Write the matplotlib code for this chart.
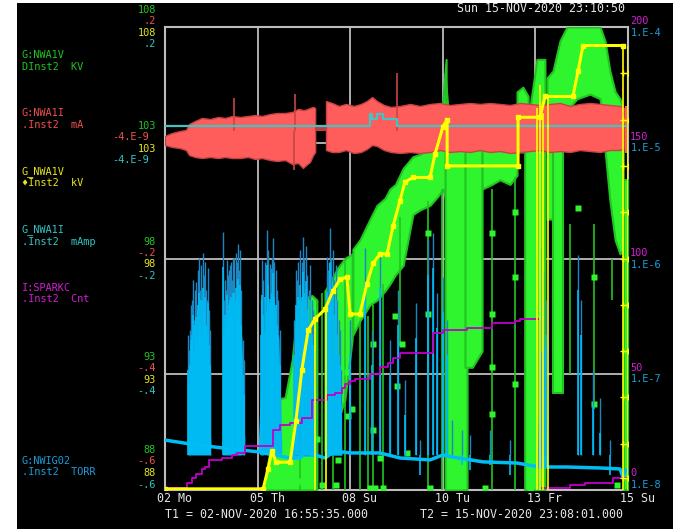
import numpy as np
import matplotlib
matplotlib.use("Agg")
import matplotlib.pyplot as plt
from matplotlib.transforms import offset_copy

# ---------------- data (time in days since T1 = 02-NOV-2020 16:55:35) ----------------
T_SPAN = 13.2587
tick_t = [0, 2.6517, 5.3035, 7.9552, 10.6070, 13.2587]
tick_labels = ['02 Mo', '05 Th', '08 Su', '10 Tu', '13 Fr', '15 Su']

# G:NWA1V (kV) - dense band segments (upper / lower envelopes)
green_seg_t = [
    [2.81, 2.95, 3.07, 3.18, 3.44, 3.64, 3.81, 4.01, 4.21, 4.35],
    [4.58, 4.73, 4.95, 5.15, 5.36],
    [5.38, 5.58, 5.87, 6.07, 6.30, 6.44, 6.60, 6.82, 7.10, 7.30, 7.59, 7.82, 7.96, 8.05],
    [8.02, 8.10, 8.20, 8.40, 8.65],
    [8.59, 8.80, 9.08],
    [9.08, 9.36, 9.59, 9.88, 10.08],
    [10.08, 10.25, 10.40],
    [10.30, 10.45, 10.65, 10.88],
    [10.94, 11.11, 11.31, 11.51, 11.80, 12.17, 12.46, 12.60, 12.74, 12.89, 13.03, 13.12],
    [11.11, 11.40],
    [13.14, 13.26],
]
green_seg_hi = [
    [88.0, 89.2, 90.2, 91.9, 92.0, 93.6, 96.0, 96.3, 96.4, 96.2],
    [96.6, 97.0, 97.6, 98.0, 98.2],
    [98.4, 98.8, 99.7, 100.3, 100.6, 101.0, 101.2, 101.9, 102.4, 102.5, 102.8, 103.6, 104.9, 106.6],
    [106.0, 104.5, 102.8, 102.8, 102.6],
    [102.8, 102.7, 102.7],
    [102.7, 102.8, 102.7, 102.6, 102.7],
    [105.2, 105.4, 105.0],
    [102.5, 104.5, 106.6, 106.6],
    [105.8, 106.1, 107.4, 108.0, 108.0, 108.0, 108.0, 107.4, 106.1, 105.2, 104.9, 104.4],
    [104.0, 104.0],
    [101.4, 101.4],
]
green_seg_lo = [
    [88.0] * 10,
    [89.7, 90.2, 91.0, 91.9, 94.5],
    [94.7, 95.3, 96.0, 96.2, 96.6, 96.9, 97.3, 97.7, 99.9, 100.1, 100.3, 100.7, 101.0, 100.5],
    [88.0] * 5,
    [93.3, 93.3, 94.0],
    [101.0, 101.2, 101.4, 101.2, 101.6],
    [102.6, 102.6, 102.6],
    [88.0] * 4,
    [99.7, 99.7, 102.7, 104.4, 104.9, 105.1, 104.9, 102.7, 100.5, 98.8, 98.2, 98.4],
    [92.2, 92.2],
    [88.0, 88.0],
]
green_floor_t = [0.0, 2.81]
green_floor_v = [88.0, 88.0]
# drop-outs (vertical excursions)
green_dip_t = [3.87, 4.35, 4.50, 4.81, 5.15, 5.58, 5.81, 5.96, 6.24, 6.73, 7.53, 7.93, 9.36, 10.02, 11.60, 12.29, 12.80]
green_dip_top = [96.2, 96.2, 96.5, 96.8, 98.0, 95.3, 95.5, 96.0, 96.9, 99.8, 100.5, 101.0, 101.0, 101.5, 99.5, 99.5, 98.0]
green_dip_bot = [88.0, 88.0, 88.0, 88.0, 88.0, 88.0, 88.0, 88.0, 88.0, 94.2, 88.0, 88.0, 88.0, 88.0, 93.0, 91.5, 96.2]
# isolated samples
green_pt_t = [3.87, 4.21, 4.35, 4.95, 5.21, 5.24, 5.36, 5.96, 5.96, 6.16, 6.59, 6.64, 6.79, 6.93,
              9.36, 9.36, 9.36, 9.36, 10.02, 10.02, 10.02, 11.83, 12.29, 12.29, 7.53, 7.53,
              3.95, 4.15, 4.50, 4.90, 5.87, 6.01, 6.24, 7.59, 9.16, 10.45, 12.94]
green_pt_v = [88.4, 89.4, 90.2, 89.3, 93.1, 91.2, 91.5, 94.3, 90.6, 89.4, 95.5, 92.5, 94.3, 89.6,
              99.1, 95.6, 93.3, 91.3, 100.0, 97.2, 92.6, 100.2, 97.2, 91.7, 99.1, 95.6,
              88.3, 88.3, 88.2, 88.2, 88.1, 88.1, 88.1, 88.1, 88.1, 88.1, 88.2]

# G_NWA1V (kV)
yel_t = [0.0, 2.81, 2.95, 3.06, 3.18, 3.58, 3.75, 3.92, 4.10, 4.30, 4.58, 4.81, 5.01, 5.21, 5.30,
         5.58, 5.78, 5.96, 6.16, 6.36, 6.53, 6.73, 6.87, 7.10, 7.59, 7.73, 7.96, 8.08, 8.08,
         10.11, 10.11, 10.74, 10.88, 11.68, 11.83, 11.97, 13.12]
yel_v = [88.05, 88.05, 88.9, 89.7, 89.2, 89.2, 91.0, 93.2, 94.9, 95.4, 95.8, 96.6, 97.1, 97.2, 95.6,
         95.6, 96.9, 97.8, 98.2, 98.2, 99.4, 100.5, 101.3, 101.5, 101.5, 102.5, 103.7, 104.0, 102.0,
         102.0, 104.1, 104.1, 105.0, 105.0, 106.1, 107.2, 107.2]
yel_vert_t = [4.30, 4.61, 10.65, 10.74, 10.82, 10.97, 13.12, 13.25]
yel_vert_top = [95.4, 95.8, 104.5, 105.5, 104.3, 105.0, 107.2, 107.2]
yel_mark_v = [106, 104, 102, 100, 98, 96, 94, 92, 90, 88.5]

# G:NWA1I (mA) - noise band envelopes
red_t = [0.0, 0.20, 0.43, 0.60, 0.69, 0.86, 1.06, 1.29, 1.52, 1.72, 1.92, 2.15, 2.38, 2.58, 2.78,
         3.01, 3.21, 3.44, 3.64, 3.81, 3.95, 4.01, 4.15, 4.24, 4.30]
red_hi = [0.0117, 0.0168, 0.0203, 0.0220, 0.0324, 0.0376, 0.0428, 0.0410, 0.0445, 0.0428, 0.0462,
          0.0445, 0.0462, 0.0479, 0.0462, 0.0497, 0.0514, 0.0514, 0.0531, 0.0583, 0.0566, 0.0566,
          0.0600, 0.0618, 0.0600]
red_lo = [-0.0039, -0.0073, -0.0091, -0.0125, -0.0212, -0.0246, -0.0264, -0.0246, -0.0264, -0.0246,
          -0.0264, -0.0264, -0.0246, -0.0281, -0.0264, -0.0298, -0.0315, -0.0298, -0.0367, -0.0350,
          -0.0436, -0.0400, -0.0333, -0.0212, -0.0160]
red2_t = [4.61, 4.78, 4.98, 5.18, 5.41, 5.61, 5.78, 5.93, 6.07, 6.27, 6.47, 6.73, 7.02, 7.30, 7.59,
          7.87, 8.16, 8.45, 8.73, 9.02, 9.30, 9.59, 9.88, 10.17, 10.45, 10.74, 11.02, 11.31, 11.60,
          11.88, 12.17, 12.46, 12.74, 13.03, 13.14]
red2_hi = [0.0721, 0.0687, 0.0635, 0.0670, 0.0635, 0.0670, 0.0721, 0.0790, 0.0721, 0.0652, 0.0618,
           0.0635, 0.0670, 0.0635, 0.0670, 0.0687, 0.0652, 0.0670, 0.0687, 0.0670, 0.0687, 0.0670,
           0.0652, 0.0687, 0.0670, 0.0652, 0.0670, 0.0687, 0.0635, 0.0670, 0.0687, 0.0670, 0.0652,
           0.0635, 0.0600]
red2_lo = [-0.0125, -0.0160, -0.0160, -0.0125, -0.0177, -0.0160, -0.0108, -0.0039, -0.0056, -0.0125,
           -0.0160, -0.0177, -0.0160, -0.0177, -0.0160, -0.0125, -0.0160, -0.0143, -0.0160, -0.0125,
           -0.0160, -0.0143, -0.0177, -0.0160, -0.0143, -0.0125, -0.0160, -0.0143, -0.0160, -0.0125,
           -0.0143, -0.0160, -0.0125, -0.0125, -0.0091]
red_gap_t = [4.30, 4.61]
red_gap_hi = [0.027, 0.027]
red_gap_lo = [0.020, 0.020]
red_spike_t = [1.98, 3.72, 6.64, 3.69]
red_spike_v = [0.077, 0.084, 0.121, -0.047]
red_edge_t = [13.17, 13.24]
red_edge_hi = [0.064, 0.064]
red_edge_lo = [-0.018, -0.018]

# G_NWA1I (mAmp)
cyan_t = [0.0, 5.87, 5.93, 6.07, 6.24, 6.64, 13.26]
cyan_v = [0.029, 0.050, 0.041, 0.050, 0.041, 0.029, 0.029]

# I:SPARKC (counts)
spark_t = [0, 0.63, 0.77, 0.89, 1.06, 1.15, 1.26, 1.63, 1.92, 2.06, 2.29, 3.09, 3.29, 3.58, 3.92,
           4.21, 4.64, 4.87, 5.07, 5.15, 5.30, 5.44, 5.87, 6.16, 6.39, 6.53, 6.73, 7.67, 7.96, 8.65,
           9.36, 10.02, 10.17, 10.74, 10.88, 11.60, 12.03, 12.26, 12.83, 13.26]
spark_c = [1, 3, 5, 7, 9, 10, 13, 14, 15, 16, 19, 26, 28, 29, 31, 39, 41, 42, 44, 46, 47, 48, 50,
           53, 55, 57, 59, 68, 69, 70, 72, 73, 74, 1, 1, 2, 3, 3, 5, 5]

# G:NWIG02 (Torr)
vac_t = [0, 0.716, 1.432, 2.148, 2.721, 3.580, 3.866, 4.009, 4.296, 4.582, 4.868, 5.298, 6.157,
         6.730, 7.589, 7.961, 8.162, 9.107, 10.080, 10.739, 11.512, 12.457, 13.030, 13.116, 13.202,
         13.259]
vac_p = [2.70e-8, 2.50e-8, 2.35e-8, 2.22e-8, 2.13e-8, 1.89e-8, 1.89e-8, 2.13e-8, 2.01e-8, 1.89e-8,
         2.17e-8, 2.09e-8, 2.09e-8, 1.89e-8, 1.82e-8, 2.01e-8, 1.94e-8, 1.75e-8, 1.71e-8, 1.58e-8,
         1.58e-8, 1.55e-8, 1.52e-8, 1.29e-8, 1.49e-8, 1.49e-8]
burst_t = [
    [0.630, 0.716, 0.859, 1.002, 1.145, 1.231, 1.317],
    [1.632, 1.718, 1.861, 2.005, 2.090, 2.205, 2.291],
    [2.663, 2.778, 2.892, 3.007, 3.150, 3.265, 3.351],
    [3.637, 3.751, 3.866, 4.009, 4.152, 4.267, 4.324],
    [4.553, 4.639, 4.782, 4.954, 5.069],
    [10.653, 10.739, 10.882, 10.968],
]
burst_p = [
    [2.4e-8, 6.0e-8, 1.2e-7, 1.6e-7, 1.3e-7, 8.0e-8, 2.4e-8],
    [2.3e-8, 1.5e-7, 3.0e-7, 4.5e-7, 4.0e-7, 2.0e-7, 2.2e-8],
    [2.1e-8, 1.6e-7, 3.5e-7, 4.5e-7, 4.0e-7, 2.0e-7, 2.0e-8],
    [1.9e-8, 1.2e-7, 2.4e-7, 3.5e-7, 2.4e-7, 1.0e-7, 1.9e-8],
    [1.9e-8, 8.0e-8, 1.5e-7, 1.5e-7, 2.0e-8],
    [1.6e-8, 1.5e-7, 1.8e-7, 1.6e-8],
]
burst_base = [2.4e-8, 2.2e-8, 2.1e-8, 1.95e-8, 2.0e-8, 1.6e-8]
spike_t = [0.659, 0.745, 0.802, 0.888, 0.974, 1.031, 1.088, 1.145, 1.231, 1.289,
           0.68, 0.70, 0.73, 0.77, 0.83, 0.86, 0.92, 0.95, 1.00, 1.06, 1.11, 1.17, 1.20, 1.26, 1.30,
           1.661, 1.747, 1.804, 1.861, 1.947, 2.033, 2.090, 2.148, 2.234,
           1.69, 1.72, 1.78, 1.83, 1.89, 1.92, 1.98, 2.06, 2.12, 2.18, 2.26,
           2.778, 2.921, 3.007, 3.093, 3.179, 3.236,
           2.74, 2.81, 2.86, 2.95, 3.04, 3.06, 3.12, 3.21, 3.29,
           3.751, 3.866, 3.952, 4.038, 4.152, 4.238,
           3.70, 3.79, 3.82, 3.91, 3.98, 4.07, 4.12, 4.20, 4.29,
           4.639, 4.725, 4.811, 4.897, 5.011,
           4.60, 4.67, 4.70, 4.75, 4.84, 4.93, 4.98, 5.04,
           5.298, 5.727, 5.928, 6.157, 6.443, 6.672, 6.873, 7.188, 7.302, 7.532, 7.675, 7.789,
           7.961, 8.076, 8.219, 8.505, 8.734, 9.307, 9.880, 10.739, 10.825, 10.911, 11.827,
           11.913, 12.257, 12.457, 12.743]
spike_p = [2.18e-7, 3.96e-7, 6.5e-7, 6.3e-7, 1.01e-6, 8.8e-7, 1.12e-6, 9.3e-7, 8.3e-7, 2.41e-7,
           8.9e-8, 1.62e-7, 2.41e-7, 4.38e-7, 2.94e-7, 5.3e-7, 3.6e-7, 7.96e-7, 5.3e-7, 4.38e-7,
           7.2e-7, 5.3e-7, 4.38e-7, 3.6e-7, 1.09e-7,
           1.69e-6, 5.3e-7, 7.2e-7, 8.8e-7, 1.01e-6, 1.12e-6, 1.33e-6, 1.18e-6, 1.98e-7,
           4.38e-7, 6.5e-7, 9.7e-7, 7.96e-7, 9.3e-7, 6.5e-7, 1.01e-6, 9.3e-7, 7.96e-7, 5.3e-7, 1.33e-7,
           9.7e-7, 1.76e-6, 8.96e-7, 1.50e-6, 7.96e-7, 4.38e-7,
           4.38e-7, 6.5e-7, 9.3e-7, 1.18e-6, 8.3e-7, 1.01e-6, 9.3e-7, 5.3e-7, 2.41e-7,
           7.96e-7, 1.18e-6, 1.53e-6, 1.28e-6, 8.8e-7, 3.6e-7,
           2.94e-7, 6.5e-7, 9.3e-7, 9.3e-7, 1.01e-6, 7.2e-7, 5.3e-7, 4.38e-7, 1.62e-7,
           1.03e-6, 1.83e-6, 1.18e-6, 8.8e-7, 2.41e-7,
           4.38e-7, 7.96e-7, 9.3e-7, 1.01e-6, 6.5e-7, 4.38e-7, 2.94e-7, 1.09e-7,
           2.94e-7, 1.23e-6, 2.41e-7, 1.12e-6, 1.98e-7, 5.3e-7, 8.9e-8, 4.1e-7, 2.7e-8, 1.45e-6,
           1.66e-6, 5.0e-7, 6.9e-7, 2.94e-7, 4.0e-8, 3.3e-8, 3.0e-8, 3.3e-8, 2.7e-8, 1.26e-6,
           7.96e-7, 4.38e-7, 1.07e-6, 4.38e-7, 1.09e-7, 6.2e-8, 2.7e-8]

# axis labels
left_stack = [  # green, red, yellow, cyan
    ('108', '.2', '108', '.2'),
    ('103', '-4.E-9', '103', '-4.E-9'),
    ('98', '-.2', '98', '-.2'),
    ('93', '-.4', '93', '-.4'),
    ('88', '-.6', '88', '-.6'),
]
right_stack = [('200', '1.E-4'), ('150', '1.E-5'), ('100', '1.E-6'), ('50', '1.E-7'), ('0', '1.E-8')]

# ---------------- styling ----------------
W, H = 673, 529
FONT = 'DejaVu Sans Mono'
FS = 7.4        # stacked labels
FS_WIDE = 8.4   # single-line texts
GREEN, GREEN_DK = '#2ef52e', '#22c422'
YELLOW = '#ffff00'
RED = '#ff5c5c'
CYAN = '#45c2c2'
MAG = '#c000c8'
BLUE, BLUE_DK = '#00bdf5', '#1a88c4'
GRID = '#bdbdbd'
T_G, T_R, T_Y, T_C, T_M, T_B, T_W = '#22c422', '#f05050', '#e6e620', '#30c6c6', '#d020d0', '#1a9ed8', '#e6e6e6'

fig = plt.figure(figsize=(W / 100, H / 100), dpi=100, facecolor='white')
bg = fig.add_axes([17 / W, 0, 1 - 17 / W, 1 - 3 / H])
bg.set_facecolor('black')
bg.set_xticks([]); bg.set_yticks([])
for s in bg.spines.values():
    s.set_visible(False)

L, R, T, B = 165, 628, 27, 490
rect = [L / W, 1 - B / H, (R - L) / W, (B - T) / H]
ax = fig.add_axes(rect)
ax.set_facecolor('none')
ax.set_xlim(0, T_SPAN)
ax.set_ylim(88, 108)
ax.set_xticks(tick_t[1:-1])
ax.set_yticks([93, 98, 103])
ax.grid(True, color=GRID, lw=1.3)
ax.tick_params(length=0, labelbottom=False, labelleft=False)
for s in ax.spines.values():
    s.set_color(GRID); s.set_linewidth(1.5)


def twin(ylim, log=False):
    a = fig.add_axes(rect, sharex=ax)
    a.set_facecolor('none')
    if log:
        a.set_yscale('log')
    a.set_ylim(*ylim)
    a.axis('off')
    return a


# green
axg = twin((88, 108))
for t, hi, lo in zip(green_seg_t, green_seg_hi, green_seg_lo):
    axg.fill_between(t, lo, hi, color=GREEN, lw=1.5, edgecolor=GREEN_DK)
axg.plot(green_floor_t, green_floor_v, color=GREEN, lw=2.5)
axg.vlines(green_dip_t, green_dip_bot, green_dip_top, color=GREEN_DK, lw=1.2)
axg.plot(green_pt_t, green_pt_v, 's', color=GREEN, ms=4.5, mec='none')

# vacuum
axb = twin((1e-8, 1e-4), log=True)
for t, p, b in zip(burst_t, burst_p, burst_base):
    axb.fill_between(t, b, p, color=BLUE, lw=0)
axb.vlines(spike_t, 2.0e-8, spike_p, color=BLUE_DK, lw=1.0)
axb.vlines(spike_t, 2.0e-8, [p * 0.5 for p in spike_p], color=BLUE, lw=1.2)
axb.plot(vac_t, vac_p, color=BLUE, lw=2.5, solid_joinstyle='round')

# spark counter
axm = twin((0, 200))
axm.step(spark_t, spark_c, where='post', color=MAG, lw=1.3)

# beam current
axr = twin((-0.6, 0.2))
axr.fill_between(red_t, red_lo, red_hi, color=RED, lw=1, edgecolor='#c84444')
axr.fill_between(red2_t, red2_lo, red2_hi, color=RED, lw=1, edgecolor='#c84444')
axr.fill_between(red_gap_t, red_gap_lo, red_gap_hi, color='#b84040', lw=0)
axr.fill_between(red_edge_t, red_edge_lo, red_edge_hi, color=RED, lw=0)
axr.vlines(red_spike_t, 0.02, red_spike_v, color='#c84444', lw=1.2)

axc = twin((-0.6, 0.2))
axc.step(cyan_t, cyan_v, where='post', color=CYAN, lw=1.6)

# voltage readback
axy = twin((88, 108))
axy.plot(yel_t, yel_v, color=YELLOW, lw=2.2, marker='s', ms=2.5)
axy.vlines(yel_vert_t, 88, yel_vert_top, color=YELLOW, lw=1.2)
for tv in yel_vert_t[-2:]:
    axy.plot([tv] * len(yel_mark_v), yel_mark_v, '+', color=YELLOW, ms=4, mew=1)


# ---------------- text ----------------
def ptext(x, y, s, color, ha='left', fs=FS):
    fig.text(x / W, 1 - y / H, s, color=color, ha=ha, va='center', fontsize=fs, family=FONT)


ptext(457, 8, 'Sun 15-NOV-2020 23:10:50', T_W, fs=FS_WIDE)

names = [(55, 'G:NWA1V', T_G), (67, 'DInst2  KV', T_G),
         (113, 'G:NWA1I', T_R), (125, '.Inst2  mA', T_R),
         (172, 'G_NWA1V', T_Y), (183, '\u2666Inst2  kV', T_Y),
         (230, 'G_NWA1I', T_C), (242, '.Inst2  mAmp', T_C),
         (288, 'I:SPARKC', T_M), (299, '.Inst2  Cnt', T_M),
         (461, 'G:NWIG02', T_B), (472, '.Inst2  TORR', T_B)]
for y, s, c in names:
    ptext(22, y, s, c)

left_y = [(10, 21, 33, 44), (126, 137, 149, 160), (242, 253, 264, 276),
          (357, 368, 380, 391), (450, 461, 473, 485)]
for labels, ys in zip(left_stack, left_y):
    for s, y, c in zip(labels, ys, (T_G, T_R, T_Y, T_C)):
        xr = 149 if 'E' in s else 156
        ptext(xr, y, s, c, ha='right')

right_y = [(21, 33), (137, 148), (253, 265), (368, 379), (473, 485)]
for (sm, sb), (ym, yb) in zip(right_stack, right_y):
    ptext(630, ym, sm, T_M)
    ptext(631, yb, sb, T_B)

for t, lab in zip(tick_t, tick_labels):
    tr = offset_copy(ax.get_xaxis_transform(), fig=fig, x=-8, y=-8, units='dots')
    ax.text(t, 0, lab, transform=tr, color=T_W, ha='left', va='center', fontsize=FS_WIDE, family=FONT)

ptext(165, 514, 'T1 = 02-NOV-2020 16:55:35.000', T_W, fs=FS_WIDE)
ptext(420, 514, 'T2 = 15-NOV-2020 23:08:01.000', T_W, fs=FS_WIDE)

fig.savefig('out.png', dpi=100, facecolor=fig.get_facecolor())
